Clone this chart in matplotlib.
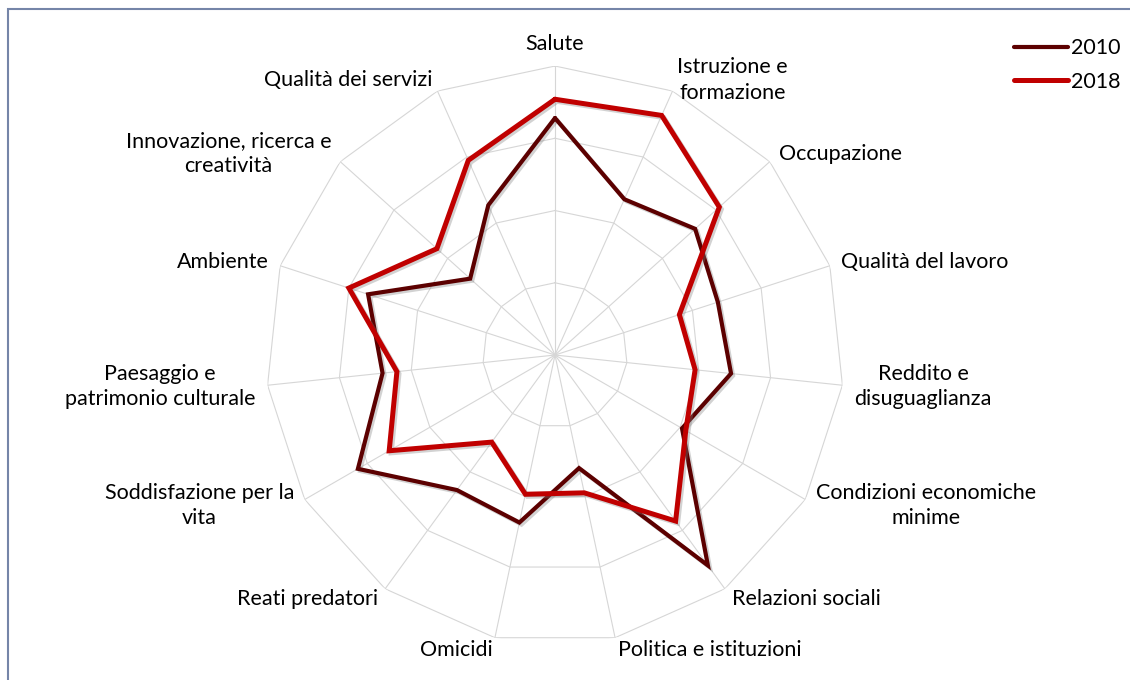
import numpy as np
import matplotlib
matplotlib.use("Agg")
import matplotlib.pyplot as plt
import matplotlib.patheffects as pe
from matplotlib.patches import Rectangle

plt.rcParams['font.family'] = ['Lato', 'DejaVu Sans']

# dimensioni (in senso orario a partire dall'alto)
categories = [
    "Salute", "Istruzione e\nformazione", "Occupazione", "Qualità del lavoro",
    "Reddito e\ndisuguaglianza", "Condizioni economiche\nminime", "Relazioni sociali",
    "Politica e istituzioni", "Omicidi", "Reati predatori", "Soddisfazione per la\nvita",
    "Paesaggio e\npatrimonio culturale", "Ambiente", "Innovazione, ricerca e\ncreatività",
    "Qualità dei servizi",
]
years = ["2010", "2018"]
values_2010 = [3.28, 2.36, 2.61, 2.37, 2.45, 2.03, 3.60, 1.60, 2.37, 2.31, 3.15, 2.40, 2.72, 1.58, 2.27]
values_2018 = [3.54, 3.63, 3.06, 1.81, 1.95, 2.09, 2.84, 1.95, 1.97, 1.49, 2.65, 2.20, 3.00, 2.20, 2.95]
ring_levels = [1, 2, 3, 4]

colors = {"2010": "#5c0000", "2018": "#c00000"}
widths = {"2010": 3.0, "2018": 3.6}

n = len(categories)
theta = np.arange(n) * 2 * np.pi / n
theta_closed = np.append(theta, theta[0])

fig = plt.figure(figsize=(11.3, 6.8), dpi=100)
ax = fig.add_axes([0.2354, 0.0529, 0.5115, 0.85], projection="polar")
ax.set_theta_zero_location("N")
ax.set_theta_direction(-1)
ax.set_ylim(0, ring_levels[-1])
ax.grid(False)
ax.spines["polar"].set_visible(False)
ax.set_xticks([])
ax.set_yticks([])
ax.patch.set_alpha(0)

# griglia poligonale
for lev in ring_levels:
    ax.plot(theta_closed, [lev] * (n + 1), color="#d6d6d6", lw=0.8, zorder=1)
for t in theta:
    ax.plot([t, t], [0, ring_levels[-1]], color="#d6d6d6", lw=0.8, zorder=1)

shadow = [pe.SimpleLineShadow(offset=(1.5, -1.5), shadow_color="#808080", alpha=0.35), pe.Normal()]
for year, vals in zip(years, [values_2010, values_2018]):
    v = np.append(vals, vals[0])
    ax.plot(theta_closed, v, color=colors[year], lw=widths[year], label=year,
            solid_joinstyle="miter", solid_capstyle="round", path_effects=shadow, zorder=3)

# etichette delle dimensioni
r_lab = ring_levels[-1] * 1.042
for t, lab in zip(theta, categories):
    s = np.sin(t)
    if abs(s) < 0.1:
        ha, va = "center", "bottom"
    else:
        ha, va = ("left" if s > 0 else "right"), "center"
    ax.text(t, r_lab, lab, ha=ha, va=va, multialignment="center", linespacing=1.35,
            fontsize=15.5, color="#000000", clip_on=False)

leg = fig.legend(loc="upper right", bbox_to_anchor=(1.009, 0.972), frameon=False,
                 fontsize=15.5, handlelength=2.5, handletextpad=0.15, labelspacing=0.62)
for line in leg.get_lines():
    line.set_path_effects([])
    line.set_solid_capstyle("round")

# cornice
fig.patches.append(Rectangle((8 / 1130, -0.1), 1.2, 1.1 - 9 / 680, transform=fig.transFigure,
                             fill=False, edgecolor="#7585a8", lw=1.5, zorder=0))

fig.savefig("out.png", dpi=100)
